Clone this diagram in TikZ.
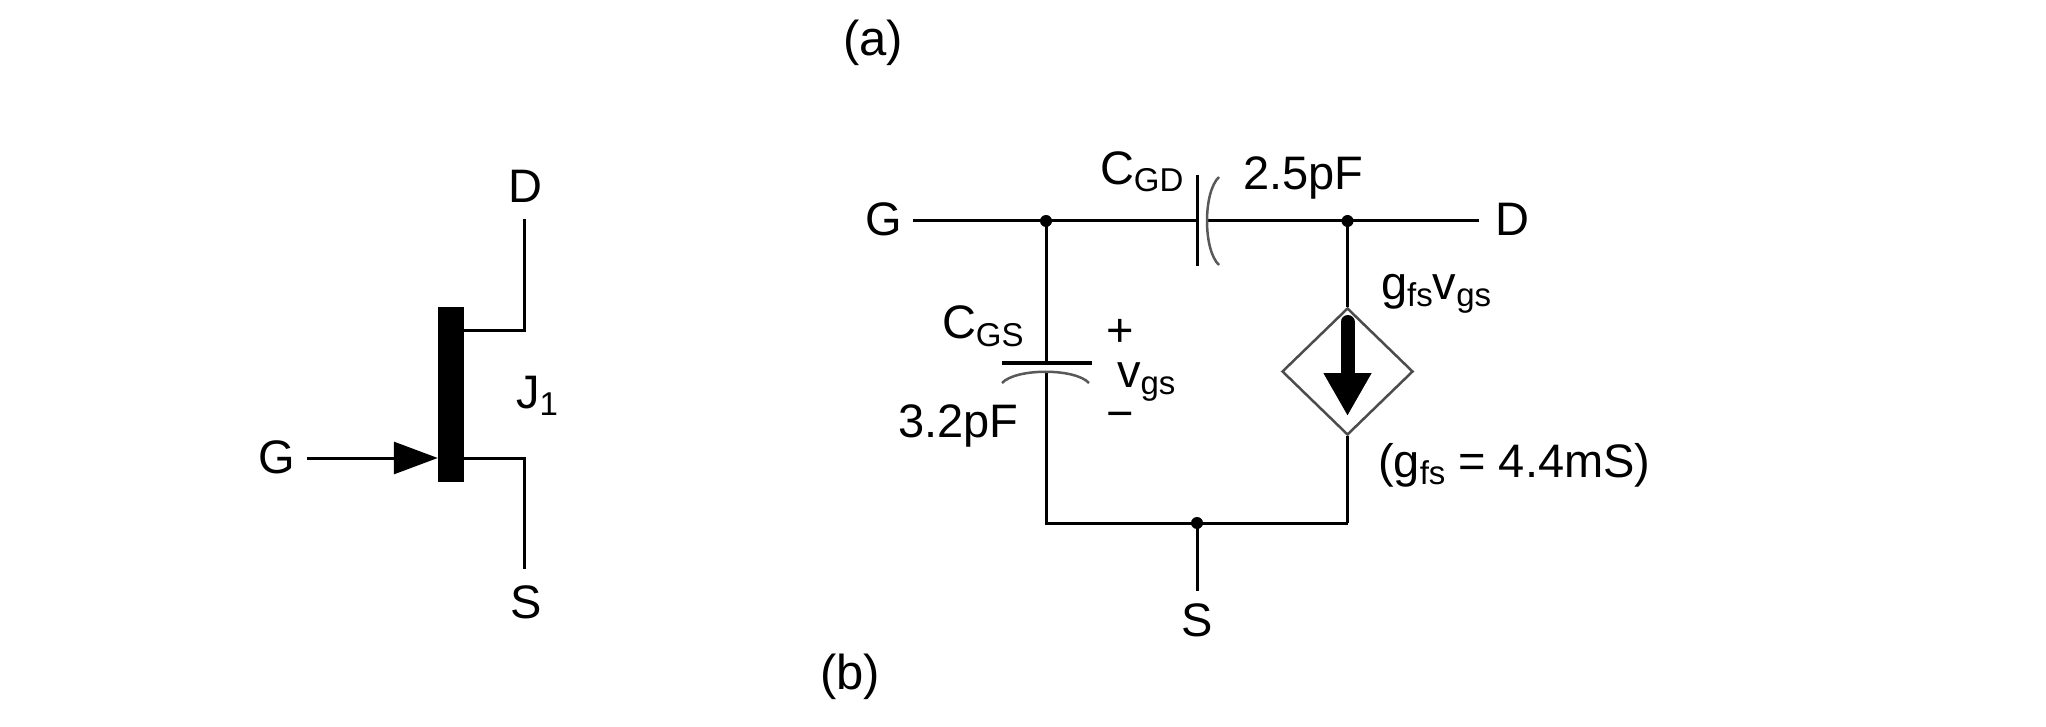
\documentclass[tikz,border=0pt]{standalone}
\usepackage{fontspec}
\setmainfont{Liberation Sans}
\usetikzlibrary{arrows.meta,shapes.geometric}
\newcommand{\lowsub}[1]{\raisebox{-7pt}{\fontsize{33}{33}\selectfont #1}}
\tikzset{
  wire/.style={line width=3pt,draw=black},
  plate/.style={line width=3pt,draw=black},
  curveplate/.style={line width=2.5pt,draw=black!65},
  lbl/.style={inner sep=0pt,outer sep=0pt,anchor=base west,text=black,font=\fontsize{47}{47}\selectfont},
  caption/.style={lbl,font=\fontsize{49}{49}\selectfont},
  junction/.style={circle,fill=black,inner sep=0pt,minimum size=12pt},
}
\begin{document}
\begin{tikzpicture}[x=1pt,y=-1pt]
\useasboundingbox (0,0) rectangle (2046,727);
\fill[white] (0,0) rectangle (2046,727);
% captions
\node[caption] (capa) at (843,56) {(a)};
\node[caption] (capb) at (820,689) {(b)};
% JFET symbol
\node[fill=black,inner sep=0pt,minimum width=26pt,minimum height=175pt] (bar) at (451,394.5) {};
\node[lbl] (Dl) at (508,203) {D};
\node[lbl] (Sl) at (510,618) {S};
\node[lbl] (Gl) at (258,473) {G};
\node[lbl] (J) at (516,408) {J\lowsub{1}};
\coordinate (dtop) at (524,219);
\coordinate (dcorner) at (524,331);
\coordinate (sbot) at (524,569);
\coordinate (scorner) at (524,458);
\coordinate (gstart) at (307,458);
\draw[wire] (bar.east |- dcorner) -- (dcorner) -- (dtop);
\draw[wire] (bar.east |- scorner) -- (scorner) -- (sbot);
\draw[wire,-{Triangle[length=44pt,width=32pt]}] (gstart) -- (bar.west |- gstart);
% small-signal model
\coordinate (gw) at (913,221);
\coordinate (dw) at (1479,221);
\node[junction] (j1) at (1046,221) {};
\node[junction] (j2) at (1347.5,221) {};
\node[junction] (j3) at (1197,523) {};
\coordinate (c1a) at (1197,221);
\coordinate (c1b) at (1207,221);
\coordinate (c2a) at (1046,363);
\coordinate (c2b) at (1046,373);
\coordinate (bl) at (1046,523);
\coordinate (br) at (1347.5,523);
\coordinate (sw) at (1197,591);
\node[lbl] (Gr) at (865,236) {G};
\node[lbl] (Dr) at (1495,236) {D};
\node[lbl] (Sr) at (1181,636) {S};
\draw[wire] (gw) -- (j1.center) -- (c1a);
\draw[wire] (c1b) -- (j2.center) -- (dw);
\draw[wire] (j1.center) -- (c2a);
\draw[wire] (c2b) -- (bl) -- (j3.center) -- (br);
\draw[wire] (j3.center) -- (sw);
% capacitors
\draw[plate] (1197,175) -- (1197,266);
\draw[curveplate] (1219,177) .. controls (1203,192) and (1203,250) .. (1219,265);
\draw[plate] (1002,363) -- (1092,363);
\draw[curveplate] (1002,383) .. controls (1016,368) and (1075,368) .. (1089,383);
% dependent source
\node[diamond,draw=black!70,line width=2.5pt,inner sep=0pt,minimum width=131pt,minimum height=127pt,fill=white] (src) at (1347.5,371.5) {};
\draw[wire] (j2.center) -- (src.north);
\draw[wire] (src.south) -- (br);
\coordinate (atop) at (1347.5,322);
\coordinate (atip) at (1347.5,416);
\draw[line width=14pt,line cap=round,black,-{Triangle[length=43pt,width=45pt]}] (atop) -- (atip);
% labels
\node[lbl] (cgd) at (1100,185) {C\lowsub{GD}};
\node[lbl] (v25) at (1243,190) {2.5pF};
\node[lbl] (cgs) at (942,339) {C\lowsub{GS}};
\node[lbl] (v32) at (898,437) {3.2pF};
\node[lbl,anchor=center] (plus) at (1120,333) {+};
\node[lbl,anchor=center] (minus) at (1120,421) {−};
\node[lbl] (vgs) at (1117,387) {v\lowsub{gs}};
\node[lbl] (gm) at (1381,300) {g\lowsub{fs}v\lowsub{gs}};
\node[lbl] (gmv) at (1378,477) {(g\lowsub{fs} = 4.4mS)};
\end{tikzpicture}
\end{document}
